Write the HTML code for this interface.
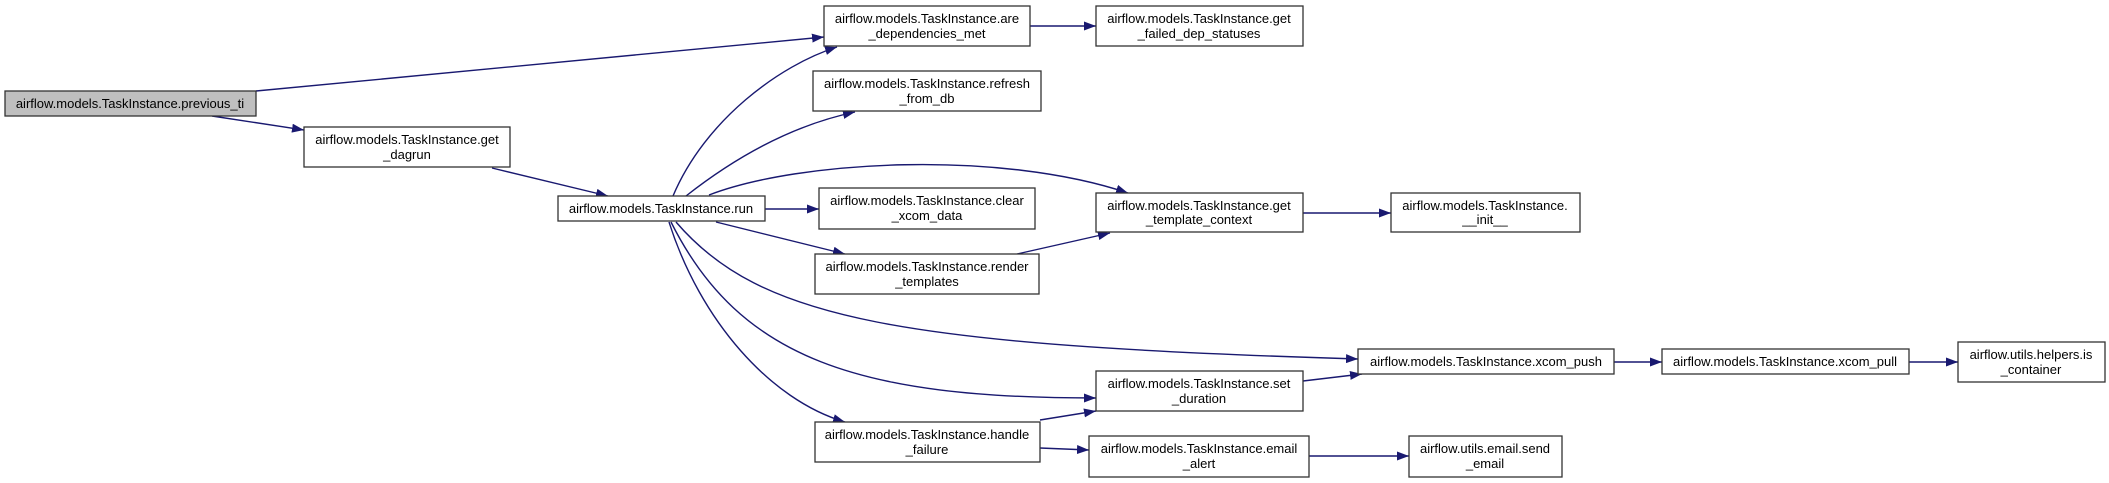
<!DOCTYPE html>
<html><head><meta charset="utf-8"><style>
html,body{margin:0;padding:0;background:#fff;}
svg{display:block;}
text{font-family:"Liberation Sans",Arial,sans-serif;font-size:13px;fill:#000;}
</style></head><body>
<svg width="2109" height="483" viewBox="0 0 2109 483" xmlns="http://www.w3.org/2000/svg">
<defs>
<marker id="a" viewBox="0 0 12 9" refX="12" refY="4.5" markerWidth="12" markerHeight="9" markerUnits="userSpaceOnUse" orient="auto">
<path d="M0,0 L12,4.5 L0,9 Z" fill="#191970"/>
</marker>
</defs>
<g fill="none" stroke="#191970" stroke-width="1.4" marker-end="url(#a)">
<path d="M256,91 L824,37"/>
<path d="M212,116 L304,130"/>
<path d="M492,168 L608,196"/>
<path d="M673,196 C705,120 780,65 837,47"/>
<path d="M686,196 Q770,130 855,112"/>
<path d="M709,195 C800,160 1000,150 1128,193"/>
<path d="M765,209 L819,209"/>
<path d="M716,222 L845,254"/>
<path d="M1017,254 L1110,233"/>
<path d="M1303,213 L1391,213"/>
<path d="M1030,26 L1096,26"/>
<path d="M676,222 C760,320 900,345 1358,359"/>
<path d="M671,222 C740,360 860,398 1096,398"/>
<path d="M669,222 C700,320 770,400 845,422"/>
<path d="M1040,420 L1096,411"/>
<path d="M1040,448 L1089,450"/>
<path d="M1303,381 L1362,374"/>
<path d="M1614,362 L1662,362"/>
<path d="M1909,362 L1958,362"/>
<path d="M1309,456 L1409,456"/>
</g>
<g stroke="#333" stroke-width="1.3" fill="#fff">
<rect x="5" y="91" width="251" height="25" fill="#bfbfbf"/>
<rect x="304" y="127" width="206" height="40"/>
<rect x="558" y="196" width="207" height="25"/>
<rect x="824" y="6" width="206" height="40"/>
<rect x="813" y="71" width="228" height="40"/>
<rect x="819" y="188" width="216" height="41"/>
<rect x="815" y="254" width="224" height="40"/>
<rect x="815" y="422" width="225" height="40"/>
<rect x="1096" y="6" width="207" height="40"/>
<rect x="1096" y="193" width="207" height="39"/>
<rect x="1391" y="193" width="189" height="39"/>
<rect x="1358" y="349" width="256" height="25"/>
<rect x="1662" y="349" width="247" height="25"/>
<rect x="1958" y="342" width="147" height="40"/>
<rect x="1096" y="371" width="207" height="40"/>
<rect x="1089" y="436" width="220" height="41"/>
<rect x="1409" y="436" width="153" height="41"/>
</g>
<g text-anchor="middle">
<text x="130" y="108">airflow.models.TaskInstance.previous_ti</text>
<text x="407" y="144">airflow.models.TaskInstance.get</text><text x="407" y="159">_dagrun</text>
<text x="661" y="213">airflow.models.TaskInstance.run</text>
<text x="927" y="23">airflow.models.TaskInstance.are</text><text x="927" y="38">_dependencies_met</text>
<text x="927" y="88">airflow.models.TaskInstance.refresh</text><text x="927" y="103">_from_db</text>
<text x="927" y="205">airflow.models.TaskInstance.clear</text><text x="927" y="220">_xcom_data</text>
<text x="927" y="271">airflow.models.TaskInstance.render</text><text x="927" y="286">_templates</text>
<text x="927" y="439">airflow.models.TaskInstance.handle</text><text x="927" y="454">_failure</text>
<text x="1199" y="23">airflow.models.TaskInstance.get</text><text x="1199" y="38">_failed_dep_statuses</text>
<text x="1199" y="210">airflow.models.TaskInstance.get</text><text x="1199" y="224">_template_context</text>
<text x="1485" y="210">airflow.models.TaskInstance.</text><text x="1485" y="224">__init__</text>
<text x="1486" y="366">airflow.models.TaskInstance.xcom_push</text>
<text x="1785" y="366">airflow.models.TaskInstance.xcom_pull</text>
<text x="2031" y="359">airflow.utils.helpers.is</text><text x="2031" y="374">_container</text>
<text x="1199" y="388">airflow.models.TaskInstance.set</text><text x="1199" y="403">_duration</text>
<text x="1199" y="453">airflow.models.TaskInstance.email</text><text x="1199" y="468">_alert</text>
<text x="1485" y="453">airflow.utils.email.send</text><text x="1485" y="468">_email</text>
</g>
</svg>
</body></html>
